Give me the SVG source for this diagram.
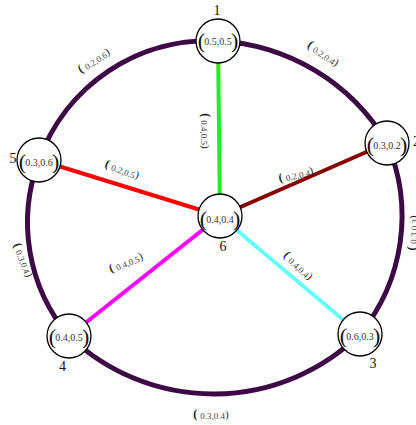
<svg xmlns="http://www.w3.org/2000/svg" width="416" height="425" viewBox="0 0 416 425">
<style>
.ring{fill:none;stroke:#3d0a45;stroke-width:5;stroke-linecap:round}
.spoke{stroke-width:4;fill:none}
.node circle{fill:#fff;stroke:#000;stroke-width:1.3}
.par{font-family:"Liberation Serif",serif;font-size:22px;fill:#111}
.num{font-family:"Liberation Serif",serif;font-size:10px;fill:#333}
.id{font-family:"Liberation Serif",serif;font-size:14px;fill:#111}
.el{font-family:"Liberation Serif",serif;fill:#222;text-anchor:middle}
.el .o{font-size:12px;font-weight:bold}
.el .n{font-size:9px;fill:#444}
.el .c{font-size:11px}
</style>
<rect width="416" height="425" fill="#fff"/>
<g id="connectors">
  <path class="ring" d="M218,41 A208,208 0 0 1 387,143"/>
  <path class="ring" d="M387,143 A186,186 0 0 1 360,334"/>
  <path class="ring" d="M360,334 A209,209 0 0 1 69,336"/>
  <path class="ring" d="M69,336 A176,176 0 0 1 39,160"/>
  <path class="ring" d="M39,160 A180,180 0 0 1 218,41"/>
  <line class="spoke" x1="220" y1="216" x2="218" y2="41" stroke="#22ee22"/>
  <line class="spoke" x1="220" y1="216" x2="387" y2="143" stroke="#880000"/>
  <line class="spoke" x1="220" y1="216" x2="360" y2="334" stroke="#66ffff"/>
  <line class="spoke" x1="220" y1="216" x2="69" y2="336" stroke="#ff00ff"/>
  <line class="spoke" x1="220" y1="216" x2="39" y2="160" stroke="#ff0000"/>
  <text class="el" transform="translate(94,61) rotate(-33)" y="3"><tspan class="o">(</tspan><tspan class="n" dx="3" dy="1">0.2,0.6</tspan><tspan class="c" dy="-1">)</tspan></text>
  <text class="el" transform="translate(323,54) rotate(34)" y="3"><tspan class="o">(</tspan><tspan class="n" dx="3" dy="1">0.2,0.4</tspan><tspan class="c" dy="-1">)</tspan></text>
  <text class="el" transform="translate(413,233) rotate(-86)" y="3"><tspan class="o">(</tspan><tspan class="n" dx="3" dy="1">0.3,0.3</tspan><tspan class="c" dy="-1">)</tspan></text>
  <text class="el" transform="translate(211,415)" y="3"><tspan class="o">(</tspan><tspan class="n" dx="3" dy="1">0.3,0.4</tspan><tspan class="c" dy="-1">)</tspan></text>
  <text class="el" transform="translate(23,260) rotate(68)" y="3"><tspan class="o">(</tspan><tspan class="n" dx="3" dy="1">0.3,0.4</tspan><tspan class="c" dy="-1">)</tspan></text>
  <text class="el" transform="translate(205,131) rotate(90)" y="3"><tspan class="o">(</tspan><tspan class="n" dx="3" dy="1">0.4,0.5</tspan><tspan class="c" dy="-1">)</tspan></text>
  <text class="el" transform="translate(122,170) rotate(20)" y="3"><tspan class="o">(</tspan><tspan class="n" dx="3" dy="1">0.2,0.5</tspan><tspan class="c" dy="-1">)</tspan></text>
  <text class="el" transform="translate(296,175) rotate(-13)" y="3"><tspan class="o">(</tspan><tspan class="n" dx="3" dy="1">0.2,0.4</tspan><tspan class="c" dy="-1">)</tspan></text>
  <text class="el" transform="translate(126,263) rotate(-22)" y="3"><tspan class="o">(</tspan><tspan class="n" dx="3" dy="1">0.4,0.5</tspan><tspan class="c" dy="-1">)</tspan></text>
  <text class="el" transform="translate(298,266) rotate(43)" y="3"><tspan class="o">(</tspan><tspan class="n" dx="3" dy="1">0.4,0.4</tspan><tspan class="c" dy="-1">)</tspan></text>
</g>
<g id="node1" class="node" transform="translate(218,41)">
  <circle r="22"/>
  <text class="par" x="-13" y="7" text-anchor="end">(</text>
  <text class="num" x="0" y="4" text-anchor="middle">0.5,0.5</text>
  <text class="par" x="13" y="7">)</text>
  <text class="id" x="-1" y="-26" text-anchor="middle">1</text>
</g>
<g id="node2" class="node" transform="translate(387,143)">
  <circle r="22"/>
  <text class="par" x="-13" y="9" text-anchor="end">(</text>
  <text class="num" x="0" y="6" text-anchor="middle">0.3,0.2</text>
  <text class="par" x="13" y="9">)</text>
  <text class="id" x="26" y="3">2</text>
</g>
<g id="node3" class="node" transform="translate(360,334)">
  <circle r="22"/>
  <text class="par" x="-13" y="9" text-anchor="end">(</text>
  <text class="num" x="0" y="6" text-anchor="middle">0.6,0.3</text>
  <text class="par" x="13" y="9">)</text>
  <text class="id" x="13" y="34" text-anchor="middle">3</text>
</g>
<g id="node4" class="node" transform="translate(69,336)">
  <circle r="22"/>
  <text class="par" x="-13" y="8" text-anchor="end">(</text>
  <text class="num" x="0" y="5" text-anchor="middle">0.4,0.5</text>
  <text class="par" x="13" y="8">)</text>
  <text class="id" x="-6.5" y="35" text-anchor="middle">4</text>
</g>
<g id="node5" class="node" transform="translate(39,160)">
  <circle r="22"/>
  <text class="par" x="-13" y="9" text-anchor="end">(</text>
  <text class="num" x="0" y="6" text-anchor="middle">0.3,0.6</text>
  <text class="par" x="13" y="9">)</text>
  <text class="id" x="-26" y="3" text-anchor="middle">5</text>
</g>
<g id="node6" class="node" transform="translate(220,216)">
  <circle r="22"/>
  <text class="par" x="-13" y="10" text-anchor="end">(</text>
  <text class="num" x="0" y="7" text-anchor="middle">0.4,0.4</text>
  <text class="par" x="13" y="10">)</text>
  <text class="id" x="3" y="35" text-anchor="middle">6</text>
</g>
</svg>
